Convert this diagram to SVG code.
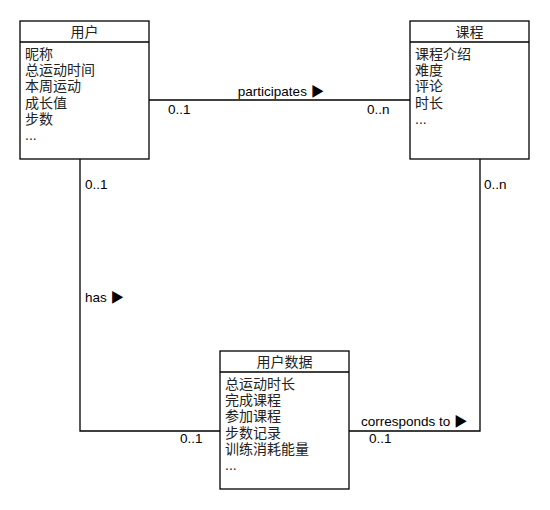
<svg xmlns="http://www.w3.org/2000/svg" width="550" height="510" viewBox="0 0 550 510">
<style>
.box{fill:#fff;stroke:#000;stroke-width:1.3}
.ln{fill:none;stroke:#000;stroke-width:1.3}
text{font-family:"Liberation Sans","Noto Sans CJK SC",sans-serif;font-size:13.5px;fill:#000}
.c{font-size:14px;fill:#222}
.h{text-anchor:middle}
</style>
<rect width="550" height="510" fill="#fff"/>
<g id="connectors">
<path class="ln" d="M149,100 H410"/>
<path class="ln" d="M80,159 V431 H220"/>
<path class="ln" d="M480,159 V431 H349"/>
<text x="281" y="96" class="h">participates ▶</text>
<text x="168" y="114">0..1</text>
<text x="367" y="114">0..n</text>
<text x="85" y="189">0..1</text>
<text x="85" y="302">has ▶</text>
<text x="180" y="443">0..1</text>
<text x="484" y="189">0..n</text>
<text x="361" y="426">corresponds to ▶</text>
<text x="369" y="443">0..1</text>
</g>
<g id="user">
<rect class="box" x="20" y="21" width="129" height="138"/>
<path class="ln" d="M20,42 H149"/>
<text x="84.5" y="37" class="h c">用户</text>
<text x="25" y="59" class="c">昵称</text>
<text x="25" y="75" class="c">总运动时间</text>
<text x="25" y="91" class="c">本周运动</text>
<text x="25" y="108" class="c">成长值</text>
<text x="25" y="124" class="c">步数</text>
<text x="25" y="140" class="c">...</text>
</g>
<g id="course">
<rect class="box" x="410" y="21" width="119" height="138"/>
<path class="ln" d="M410,42 H529"/>
<text x="469.5" y="37" class="h c">课程</text>
<text x="415" y="59" class="c">课程介绍</text>
<text x="415" y="75" class="c">难度</text>
<text x="415" y="91" class="c">评论</text>
<text x="415" y="108" class="c">时长</text>
<text x="415" y="124" class="c">...</text>
</g>
<g id="userdata">
<rect class="box" x="220" y="351" width="129" height="138"/>
<path class="ln" d="M220,372 H349"/>
<text x="284.5" y="367" class="h c">用户数据</text>
<text x="225" y="389" class="c">总运动时长</text>
<text x="225" y="405" class="c">完成课程</text>
<text x="225" y="421" class="c">参加课程</text>
<text x="225" y="438" class="c">步数记录</text>
<text x="225" y="454" class="c">训练消耗能量</text>
<text x="225" y="470" class="c">...</text>
</g>
</svg>
